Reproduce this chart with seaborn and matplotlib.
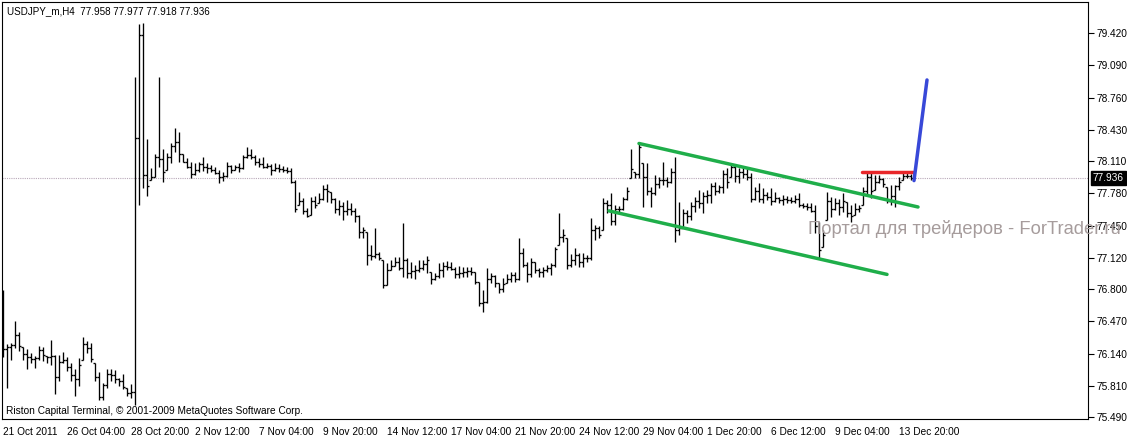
import numpy as np
import matplotlib
matplotlib.use("Agg")
import matplotlib.pyplot as plt
import matplotlib.transforms as mtransforms
import seaborn as sns

# USDJPY_m H4 bars, 21 Oct 2011 .. 14 Dec 2011
highs = [
    76.79, 76.24, 76.25, 76.47, 76.36, 76.21, 76.19, 76.15, 76.11, 76.22, 76.21, 76.11, 76.28, 76.12, 76.12, 76.16,
    76.10, 76.04, 75.98, 76.09, 76.31, 76.27, 76.25, 76.04, 75.95, 75.84, 75.98, 75.98, 75.97, 75.89, 75.93, 75.79,
    75.83, 78.97, 79.51, 79.52, 78.34, 78.04, 78.18, 78.97, 78.23, 78.19, 78.29, 78.45, 78.41, 78.18, 78.14, 78.10,
    78.09, 78.10, 78.15, 78.09, 78.07, 78.05, 78.02, 78.00, 78.10, 78.07, 78.07, 78.09, 78.17, 78.25, 78.23, 78.17,
    78.14, 78.15, 78.09, 78.08, 78.09, 78.08, 78.06, 78.05, 78.04, 77.92, 77.79, 77.73, 77.63, 77.74, 77.75, 77.78,
    77.87, 77.88, 77.79, 77.73, 77.71, 77.69, 77.71, 77.68, 77.63, 77.56, 77.44, 77.38, 77.25, 77.42, 77.18, 77.10,
    77.07, 77.10, 77.13, 77.13, 77.48, 77.12, 77.08, 77.05, 77.10, 77.10, 77.14, 76.97, 76.96, 77.07, 77.08, 77.09,
    77.08, 77.03, 77.04, 77.03, 77.03, 77.03, 76.97, 76.87, 76.79, 77.02, 76.96, 76.94, 76.86, 76.91, 76.95, 76.97,
    76.97, 77.32, 77.22, 77.08, 77.12, 77.08, 77.02, 77.03, 77.05, 77.07, 77.23, 77.58, 77.41, 77.32, 77.16, 77.22,
    77.17, 77.17, 77.15, 77.53, 77.46, 77.45, 77.73, 77.71, 77.78, 77.66, 77.65, 77.74, 77.84, 78.23, 78.00, 78.30,
    78.09, 78.09, 77.84, 77.97, 77.95, 78.10, 77.95, 78.04, 78.15, 77.69, 77.62, 77.61, 77.69, 77.74, 77.81, 77.79,
    77.81, 77.89, 77.90, 77.87, 78.02, 78.04, 78.09, 78.08, 78.04, 78.05, 78.04, 77.99, 77.84, 77.89, 77.83, 77.79,
    77.83, 77.79, 77.74, 77.76, 77.75, 77.74, 77.76, 77.78, 77.68, 77.68, 77.68, 77.66, 77.49, 77.40, 77.79, 77.74,
    77.73, 77.72, 77.78, 77.69, 77.66, 77.68, 77.66, 77.84, 77.99, 77.99, 77.97, 77.97, 77.94, 77.84, 77.87, 77.87,
    77.95, 78.00, 78.00, 77.977,
]
lows = [
    76.10, 75.79, 76.07, 76.20, 76.17, 76.07, 75.98, 76.04, 75.99, 76.07, 76.06, 76.04, 76.02, 75.73, 75.86, 76.04,
    75.96, 75.86, 75.71, 75.81, 76.07, 76.15, 76.05, 75.86, 75.66, 75.66, 75.79, 75.86, 75.84, 75.81, 75.78, 75.71,
    75.69, 75.61, 77.66, 77.83, 77.75, 77.92, 77.95, 78.05, 77.90, 78.02, 78.09, 78.20, 78.10, 78.10, 78.04, 77.94,
    77.97, 78.00, 78.01, 77.99, 78.00, 77.98, 77.89, 77.91, 77.95, 77.99, 78.02, 78.00, 78.03, 78.14, 78.13, 78.07,
    78.05, 78.04, 78.04, 77.97, 78.01, 78.00, 78.00, 77.99, 77.89, 77.59, 77.66, 77.57, 77.54, 77.56, 77.63, 77.68,
    77.71, 77.69, 77.68, 77.58, 77.56, 77.51, 77.56, 77.56, 77.49, 77.32, 77.32, 77.05, 77.10, 77.12, 77.10, 76.81,
    76.84, 77.00, 77.04, 77.00, 76.92, 76.91, 76.91, 76.90, 76.97, 77.00, 76.96, 76.85, 76.89, 76.91, 76.92, 77.00,
    77.00, 76.91, 76.91, 76.92, 76.92, 76.94, 76.85, 76.63, 76.57, 76.66, 76.86, 76.82, 76.76, 76.77, 76.86, 76.87,
    76.87, 76.89, 77.03, 76.87, 76.92, 76.96, 76.92, 76.92, 76.97, 76.94, 77.03, 77.25, 77.28, 77.01, 77.03, 77.05,
    77.03, 77.03, 77.08, 77.10, 77.30, 77.32, 77.40, 77.58, 77.46, 77.46, 77.59, 77.61, 77.71, 77.94, 77.94, 77.94,
    77.64, 77.76, 77.64, 77.76, 77.83, 77.87, 77.84, 77.89, 77.28, 77.35, 77.42, 77.48, 77.51, 77.59, 77.63, 77.58,
    77.68, 77.68, 77.76, 77.78, 77.78, 77.83, 77.95, 77.90, 77.89, 77.94, 77.92, 77.69, 77.71, 77.69, 77.68, 77.71,
    77.66, 77.69, 77.68, 77.66, 77.68, 77.68, 77.68, 77.64, 77.63, 77.61, 77.59, 77.37, 77.12, 77.23, 77.51, 77.54,
    77.61, 77.56, 77.59, 77.54, 77.49, 77.56, 77.59, 77.66, 77.76, 77.73, 77.81, 77.89, 77.84, 77.68, 77.66, 77.64,
    77.81, 77.92, 77.94, 77.918,
]
closes = [
    76.19, 76.21, 76.23, 76.33, 76.22, 76.14, 76.10, 76.08, 76.09, 76.18, 76.12, 76.10, 76.11, 75.90, 76.05, 76.07,
    76.00, 75.92, 75.88, 76.02, 76.24, 76.20, 76.08, 75.90, 75.70, 75.82, 75.93, 75.92, 75.88, 75.86, 75.80, 75.74,
    75.75, 78.35, 79.40, 77.97, 77.85, 77.95, 78.15, 78.13, 78.00, 78.15, 78.26, 78.30, 78.18, 78.10, 78.05, 77.98,
    78.02, 78.08, 78.05, 78.04, 78.02, 77.99, 77.95, 77.96, 78.06, 78.02, 78.05, 78.04, 78.15, 78.17, 78.15, 78.10,
    78.08, 78.05, 78.06, 78.02, 78.04, 78.03, 78.02, 78.01, 77.90, 77.62, 77.70, 77.60, 77.55, 77.70, 77.66, 77.72,
    77.82, 77.80, 77.72, 77.62, 77.65, 77.60, 77.62, 77.60, 77.55, 77.38, 77.40, 77.15, 77.14, 77.16, 77.12, 76.84,
    77.00, 77.04, 77.08, 77.02, 77.10, 76.96, 76.98, 77.00, 77.02, 77.06, 77.10, 76.90, 76.93, 77.00, 77.04, 77.03,
    77.01, 76.95, 76.96, 76.97, 76.98, 76.97, 76.87, 76.66, 76.67, 76.90, 76.93, 76.86, 76.80, 76.85, 76.90, 76.94,
    76.90, 77.17, 77.05, 76.95, 77.08, 77.00, 76.97, 77.00, 77.02, 77.05, 77.21, 77.33, 77.35, 77.05, 77.10, 77.15,
    77.08, 77.12, 77.12, 77.40, 77.42, 77.35, 77.68, 77.66, 77.50, 77.62, 77.62, 77.72, 77.80, 78.03, 77.98, 78.25,
    77.95, 77.80, 77.78, 77.88, 77.92, 77.92, 77.90, 78.00, 77.40, 77.42, 77.58, 77.55, 77.65, 77.70, 77.68, 77.75,
    77.76, 77.85, 77.80, 77.84, 77.98, 77.90, 78.05, 77.96, 78.00, 77.98, 77.95, 77.72, 77.80, 77.72, 77.76, 77.74,
    77.70, 77.73, 77.71, 77.72, 77.71, 77.70, 77.72, 77.66, 77.65, 77.64, 77.60, 77.45, 77.20, 77.35, 77.70, 77.62,
    77.68, 77.64, 77.70, 77.58, 77.55, 77.62, 77.63, 77.80, 77.95, 77.80, 77.90, 77.93, 77.88, 77.70, 77.75, 77.85,
    77.90, 77.96, 77.96, 77.936,
]
first_open = 76.15
last_open = 77.958

x_tick_labels = ["21 Oct 2011", "26 Oct 04:00", "28 Oct 20:00", "2 Nov 12:00", "7 Nov 04:00",
                 "9 Nov 20:00", "14 Nov 12:00", "17 Nov 04:00", "21 Nov 20:00", "24 Nov 12:00",
                 "29 Nov 04:00", "1 Dec 20:00", "6 Dec 12:00", "9 Dec 04:00", "13 Dec 20:00"]
y_ticks = [79.420, 79.090, 78.760, 78.430, 78.110, 77.780, 77.450,
           77.120, 76.800, 76.470, 76.140, 75.810, 75.490]
last_price = 77.936

# drawn objects (bar index, price)
upper_channel_x = [159, 228.75]
upper_channel_y = [78.29, 77.64]
lower_channel_x = [151.5, 221]
lower_channel_y = [77.60, 76.95]
resistance_x = [214.75, 227.5]
resistance_y = [78.00, 78.00]
breakout_x = [227.75, 231]
breakout_y = [77.91, 78.94]

sns.set_style("white")
plt.rcParams['font.family'] = ['Liberation Sans', 'DejaVu Sans']

W, H = 1127, 436
fig = plt.figure(figsize=(W / 100, H / 100), dpi=100)
ax = fig.add_axes([2 / W, (H - 419) / H, (1088 - 2) / W, (419 - 2) / H])

hi = np.array(highs)
lo = np.array(lows)
cl = np.array(closes)
op = np.clip(np.r_[first_open, cl[:-1]], lo, hi)
op[-1] = last_open
x = np.arange(len(hi))

ax.axhline(last_price, color='#b9a9b9', lw=0.8, ls=(0, (1, 1)), zorder=1)
lw_bar = 0.95
ax.vlines(x, lo, hi, color='black', lw=lw_bar, zorder=3)
ax.hlines(op, x - 0.38, x, color='black', lw=lw_bar, zorder=3)
ax.hlines(cl, x, x + 0.38, color='black', lw=lw_bar, zorder=3)

green = '#1fae4a'
sns.lineplot(x=upper_channel_x, y=upper_channel_y, ax=ax, color=green, lw=2.5, zorder=4)
sns.lineplot(x=lower_channel_x, y=lower_channel_y, ax=ax, color=green, lw=2.5, zorder=4)
sns.lineplot(x=resistance_x, y=resistance_y, ax=ax, color='#e8262a', lw=2.5, zorder=4)
sns.lineplot(x=breakout_x, y=breakout_y, ax=ax, color='#3848d8', lw=2.5, zorder=4)

ax.set_xlim(-0.25, 271.25)
ax.set_ylim(75.470, 79.738)

ax.set_xticks(np.arange(len(x_tick_labels)) * 16)
ax.set_xticklabels(x_tick_labels)
for lbl in ax.get_xticklabels():
    lbl.set_ha('left')
ax.yaxis.tick_right()
ax.set_yticks(y_ticks)
ax.set_yticklabels([f"{v:.3f}" for v in y_ticks])
ax.tick_params(axis='x', direction='out', length=4, width=0.8, pad=1.5, labelsize=7.3, colors='black')
ax.tick_params(axis='y', direction='out', length=4, width=0.8, pad=2, labelsize=7.3, colors='black')
ax.set_xlabel("")
ax.set_ylabel("")
for sp in ax.spines.values():
    sp.set_color('black')
    sp.set_linewidth(0.8)

trans = mtransforms.blended_transform_factory(ax.transAxes, ax.transData)
ax.text(1.0045, last_price, f"{last_price:.3f}", transform=trans, ha='left', va='center',
        fontsize=7.3, color='white',
        bbox=dict(boxstyle='square,pad=0.2', facecolor='black', edgecolor='black'))

fig.text(7 / W, 1 - 11 / H, "USDJPY_m,H4  77.958 77.977 77.918 77.936", ha='left', va='center',
         fontsize=7.1, color='black')
fig.text(6 / W, 1 - 411 / H, "Riston Capital Terminal, © 2001-2009 MetaQuotes Software Corp.",
         ha='left', va='center', fontsize=7.3, color='black')
fig.text(1121 / W, 1 - 229 / H, "Портал для трейдеров - ForTrader.ru", ha='right', va='center',
         fontsize=13.2, color='#a69c9c')

fig.savefig("out.png", dpi=100, facecolor='white')
